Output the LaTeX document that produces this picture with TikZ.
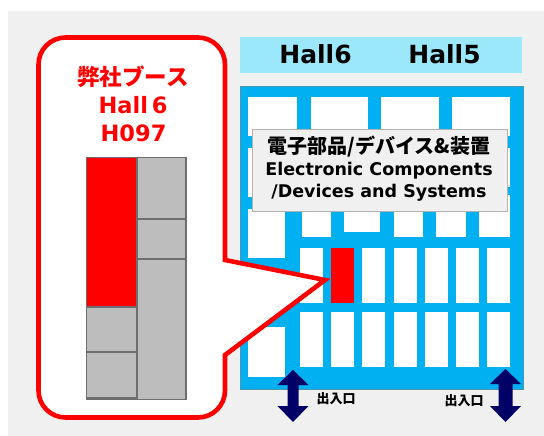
\documentclass[tikz,border=0pt]{standalone}
\usepackage{fontspec}
\setmainfont{DejaVu Sans}
\newfontfamily\jpfont{Noto Sans CJK JP}
\usepackage{xcolor}
\definecolor{hallbar}{HTML}{9BE8FB}
\definecolor{hallblue}{HTML}{00B0F0}
\definecolor{pagegrey}{HTML}{F0F0F0}
\definecolor{boothgrey}{HTML}{BDBDBD}
\definecolor{boothline}{HTML}{6E6E6E}
\definecolor{entrynavy}{HTML}{000066}
\tikzset{
	stand/.style={fill=white},
	booth/.style={fill=boothgrey, draw=boothline, line width=1.3pt},
	mine/.style={fill=red, draw=boothline, line width=1.3pt},
	entry/.style={fill=entrynavy},
	redtext/.style={text=red, font=\bfseries\fontsize{22.5}{24}\selectfont, inner sep=0pt},
	halltext/.style={font=\bfseries\fontsize{25}{28}\selectfont, inner sep=0pt},
	infotext/.style={font=\bfseries\fontsize{17.5}{20}\selectfont, inner sep=0pt},
	doortext/.style={font=\jpfont\bfseries\fontsize{13}{15}\selectfont, inner sep=0pt}
}
\newcommand{\stand}[4]{\fill[stand] (#1,#2) rectangle (#3,#4);}
\newcommand{\door}[5]{\fill[entry] (#1,#2) -- (#1+#4,#2+15) -- (#1+#5,#2+15) -- (#1+#5,#3-16) -- (#1+#4,#3-16) -- (#1,#3) -- (#1-#4,#3-16) -- (#1-#5,#3-16) -- (#1-#5,#2+15) -- (#1-#4,#2+15) -- cycle;}

\begin{document}
\begin{tikzpicture}[x=1pt,y=-1pt]
	\useasboundingbox (0,0) rectangle (544,436);
	\fill[pagegrey] (8,11) rectangle (544,436);

	% hall
	\fill[hallbar] (240,37) rectangle (522,73);
	\node[halltext] (hall6) at (315.5,54) {Hall6};
	\node[halltext] (hall5) at (444.5,54) {Hall5};
	\draw[fill=hallblue, draw=hallblue!60!black!70, line width=0.8pt] (240.5,86.5) rectangle (523,389);

	% stands
	\foreach \xa/\xb in {248/297,311/368,381/439,452/510}
		\stand{\xa}{97}{\xb}{136}
	\stand{248}{148}{297}{197}
	\stand{452}{148}{510}{187}
	\stand{248}{209}{285}{258}
	\stand{248}{327}{285}{377}
	\stand{344}{195}{380}{232}
	\foreach \xa/\xb in {302/331,394/423,436/466,479/510}
		\stand{\xa}{195}{\xb}{237}
	\foreach \xa in {300,362,394,425,456,487}
		\stand{\xa}{248}{\xa+23}{303}
	\foreach \xa in {300,331,362,394,425,456,487}
		\stand{\xa}{312}{\xa+23}{367}
	\fill[red] (331,248) rectangle (354,303);

	% info box
	\node[draw=black!30, fill=pagegrey, line width=1pt, minimum width=255pt, minimum height=82pt, inner sep=0pt] (info) at (379.5,170) {};
	\node[infotext, font=\jpfont\bfseries\fontsize{20}{22}\selectfont] (infoa) at (379,147) {電子部品/デバイス\&装置};
	\node[infotext] (infob) at (379,171) {Electronic Components};
	\node[infotext] (infoc) at (379,193) {/Devices and Systems};

	% callout
	\draw[red, fill=white, line width=4.6pt, miter limit=10] (225,260) [rounded corners=27pt] -- (225,37.5) -- (38.5,37.5) -- (38.5,417.5) -- (225,417.5) [sharp corners] -- (225,355) -- (325,280) -- cycle;

	\node[redtext, font=\jpfont\bfseries\fontsize{22.5}{24}\selectfont] (boothname) at (133,77) {弊社ブース};
	\node[redtext] (boothhall) at (133,105) {Hall\,6};
	\node[redtext] (boothno) at (133.5,133) {H097};

	% booth plan
	\draw[mine] (86.5,157.5) rectangle (137,307);
	\foreach \ya/\yb in {307/352,352/398}
		\draw[booth] (86.5,\ya) rectangle (137,\yb);
	\foreach \ya/\yb in {157.5/219,219/259,259/399.5}
		\draw[booth] (137,\ya) rectangle (186,\yb);
	\draw[boothline, line width=1.5pt] (86,399.3) -- (137,399.3);

	% entrances
	\door{293}{370}{422}{15.5}{5.5}
	\door{505.5}{369}{422}{15.5}{7}
	\node[doortext] (door1) at (336,399) {出入口};
	\node[doortext] (door2) at (464,401) {出入口};
\end{tikzpicture}
\end{document}
